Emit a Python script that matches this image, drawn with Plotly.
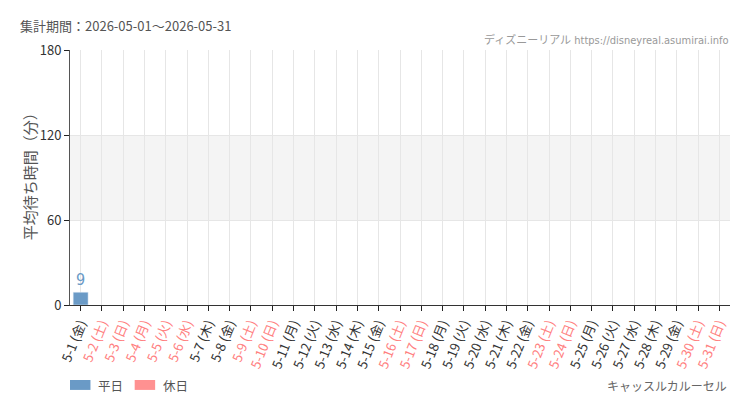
import plotly.graph_objects as go

# ------------------------- DATA -------------------------
dates = [f"5-{d}" for d in range(1, 32)]
weekdays = ["金", "土", "日", "月", "火", "水", "木", "金", "土", "日",
            "月", "火", "水", "木", "金", "土", "日", "月", "火", "水",
            "木", "金", "土", "日", "月", "火", "水", "木", "金", "土", "日"]
holiday = [0, 1, 1, 1, 1, 1, 0, 0, 1, 1,
           0, 0, 0, 0, 0, 1, 1, 0, 0, 0,
           0, 0, 1, 1, 0, 0, 0, 0, 0, 1, 1]
wait_avg = [9] + [None] * 30

BLUE = "#6a9ac6"
PINK = "#ff9191"
JP = "Noto Sans CJK JP"
NARROW = "Liberation Sans Narrow, DejaVu Sans Condensed, Noto Sans CJK JP"

# split values into weekday / holiday series
wd_vals = [v if not h else None for v, h in zip(wait_avg, holiday)]
hd_vals = [v if h else None for v, h in zip(wait_avg, holiday)]

tick_text = []
for d, w, h in zip(dates, weekdays, holiday):
    label = f"{d} ({w})"
    if h:
        label = f"<span style='color:#ff8080'>{label}</span>"
    tick_text.append(label)

fig = go.Figure()
fig.add_trace(go.Bar(x=dates, y=wd_vals, name="平日", marker_color=BLUE, width=0.7,
                     texttemplate="%{y}", textposition="outside", cliponaxis=False,
                     textfont=dict(color=BLUE, size=16, family=NARROW)))
fig.add_trace(go.Bar(x=dates, y=hd_vals, name="休日", marker_color=PINK, width=0.7,
                     texttemplate="%{y}", textposition="outside", cliponaxis=False,
                     textfont=dict(color=PINK, size=16, family=NARROW)))

# light gray band between 60 and 120
fig.add_shape(type="rect", xref="paper", yref="y", x0=0, x1=1, y0=60, y1=120,
              fillcolor="#f4f4f4", line_width=0, layer="below")

# page body adds ~8px, so margins are shifted to compensate
fig.update_layout(
    width=750, height=410,
    margin=dict(l=62, r=28, t=42, b=113, autoexpand=False),
    paper_bgcolor="white", plot_bgcolor="white",
    barmode="overlay",
    font=dict(family=JP, color="#333", size=12),
    showlegend=False,
    xaxis=dict(tickmode="array", tickvals=dates, ticktext=tick_text, tickangle=-68,
               automargin=False,
               showgrid=True, gridcolor="#e6e6e6", ticks="outside", ticklen=5,
               tickcolor="#222", showline=True, linecolor="#333", linewidth=1,
               tickfont=dict(size=13, color="#333")),
    yaxis=dict(range=[0, 180], tickvals=[0, 60, 120, 180], showgrid=True, automargin=False,
               gridcolor="#e6e6e6", ticks="outside", ticklen=5, tickcolor="#222",
               showline=True, linecolor="#555", linewidth=1, zeroline=False,
               tickfont=dict(size=13, color="#333")),
)

# y axis title
fig.add_annotation(text="平均待ち時間（分）", xref="paper", yref="paper", x=-0.061, y=0.52,
                   textangle=-90, xanchor="center", yanchor="middle", showarrow=False,
                   font=dict(size=15, color="#555"))

# custom legend (wide swatches like the original)
for x0, color, label in [(0.0, BLUE, "平日"), (0.098, PINK, "休日")]:
    fig.add_shape(type="rect", xref="paper", yref="paper", x0=x0, x1=x0 + 0.031,
                  y0=-0.294, y1=-0.333, fillcolor=color, line_width=0)
    fig.add_annotation(text=label, xref="paper", yref="paper", x=x0 + 0.04, y=-0.314,
                       xanchor="left", yanchor="middle", showarrow=False,
                       font=dict(size=12.5, color="#555"))

fig.add_annotation(text="集計期間：2026-05-01～2026-05-31", xref="paper", yref="paper",
                   x=-0.079, y=1.098, xanchor="left", yanchor="middle", showarrow=False,
                   font=dict(size=13, color="#555"))
fig.add_annotation(text="ディズニーリアル https://disneyreal.asumirai.info", xref="paper", yref="paper",
                   x=1, y=1.039, xanchor="right", yanchor="middle", showarrow=False,
                   font=dict(size=11, color="#999", family=NARROW))
fig.add_annotation(text="キャッスルカルーセル", xref="paper", yref="paper",
                   x=0.998, y=-0.314, xanchor="right", yanchor="middle", showarrow=False,
                   font=dict(size=12, color="#666"))

fig.write_html("out.html")
